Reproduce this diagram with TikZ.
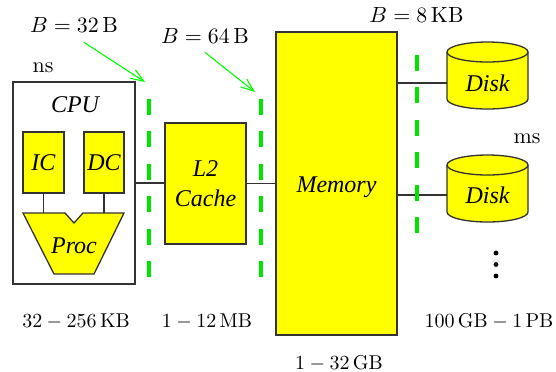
\documentclass[tikz,border=0pt]{standalone}
\usepackage{fontspec}
\usetikzlibrary{arrows.meta, positioning, calc}
\newfontfamily\unitfont{Liberation Serif}
\definecolor{unityellow}{HTML}{FFFF00}
\definecolor{edgegray}{HTML}{333333}
\definecolor{dashgreen}{HTML}{00E400}
\definecolor{arrowgreen}{HTML}{00FF00}

\begin{document}
\begin{tikzpicture}[x=0.5pt, y=-0.5pt,
  unit/.style={rectangle, draw=edgegray, fill=unityellow, line width=0.65pt,
               inner sep=0pt, align=center,
               font=\unitfont\itshape\fontsize{12}{15}\selectfont},
  frame/.style={rectangle, draw=edgegray, fill=white, line width=0.65pt, inner sep=0pt},
  ulbl/.style={inner sep=0pt, font=\unitfont\itshape\fontsize{12}{15}\selectfont},
  blbl/.style={anchor=base, inner sep=0pt, font=\fontsize{10.95}{13}\selectfont},
  slbl/.style={anchor=base, inner sep=0pt, font=\fontsize{10}{12}\selectfont},
  wire/.style={draw=edgegray, line width=0.8pt},
  gapline/.style={draw=dashgreen, line width=2.25pt, dash pattern=on 8pt off 8.2pt},
  ptr/.style={-{Straight Barb[length=6.5pt, width=5pt]}, draw=arrowgreen, line width=0.55pt},
  disk/.style={draw=edgegray, fill=unityellow, line width=0.65pt},
]
\useasboundingbox (0,0) rectangle (556,371);

%% --- CPU ---
\node[frame, minimum width=61pt, minimum height=101pt] (cpu) at (74,183) {};
\node[ulbl] (cpulbl) at (75,105) {CPU};
\node[unit, minimum width=20.5pt, minimum height=30.5pt] (ic) at (43.5,162.5) {IC};
\node[unit, minimum width=20pt, minimum height=30.5pt] (dc) at (104,162.5) {DC};
\draw[disk] (23,213) -- (65,213) -- (74,223) -- (83,213) -- (124,213)
  -- (94,274) -- (54,274) -- cycle;
\node[ulbl] (proc) at (74,246) {Proc};
\draw[wire] (ic.south) -- (ic.south |- 0,213);
\draw[wire] (dc.south) -- (dc.south |- 0,213);

%% --- L2 and memory ---
\node[unit, minimum width=40.5pt, minimum height=60.5pt] (l2) at (205.5,183.5) {L2\\Cache};
\node[unit, minimum width=60.5pt, minimum height=151.5pt, text height=11.5pt] (mem) at (336.5,183.5) {Memory};
\draw[wire] (cpu.east) -- (cpu.east -| l2.west);
\draw[wire] (l2.east) -- (l2.east -| mem.west);

%% --- Disks ---
\foreach \t in {42,155} {
  \filldraw[disk] (447,\t+10) -- (447,\t+57)
    arc[start angle=180, end angle=360, x radius=20.25pt, y radius=5pt]
    -- (528,\t+10)
    arc[start angle=0, end angle=180, x radius=20.25pt, y radius=5pt] -- cycle;
  \draw[disk, fill=none] (447,\t+10)
    arc[start angle=180, end angle=360, x radius=20.25pt, y radius=5pt];
}
\node[ulbl, minimum width=40.5pt] (d1) at (487.5,83) {Disk};
\node[ulbl, minimum width=40.5pt] (d2) at (487.5,195) {Disk};
\draw[wire] (mem.east |- d1.west) -- (d1.west);
\draw[wire] (mem.east |- d2.west) -- (d2.west);
\foreach \y in {253,264.5,276}
  \fill (496,\y) circle[radius=1.2pt];

%% --- Block boundaries ---
\draw[gapline] (149,99) -- (149,277);
\draw[gapline] (261,99) -- (261,277);
\draw[gapline] (417,55) -- (417,234);

%% --- Block sizes ---
\node[blbl] (b32) at (74,32) {$B=32\,\mathrm{B}$};
\node[blbl] (b64) at (205,43) {$B=64\,\mathrm{B}$};
\node[blbl] (b8) at (416.5,22) {$B=8\,\mathrm{KB}$};
\coordinate (g1) at (145,82);
\coordinate (g2) at (255,92);
\draw[ptr] ([xshift=5pt, yshift=-5pt]b32.south) -- (g1);
\draw[ptr] ([yshift=-4.5pt]b64.south) -- (g2);

%% --- Access times and capacities ---
\node[blbl] (ns) at (43,72) {ns};
\node[blbl] (ms) at (527,143) {ms};
\node[slbl] (c1) at (76,327) {$32-256\,\mathrm{KB}$};
\node[slbl] (c2) at (207,327) {$1-12\,\mathrm{MB}$};
\node[slbl] (c3) at (339,369) {$1-32\,\mathrm{GB}$};
\node[slbl] (c4) at (489,327) {$100\,\mathrm{GB}-1\,\mathrm{PB}$};
\end{tikzpicture}
\end{document}
